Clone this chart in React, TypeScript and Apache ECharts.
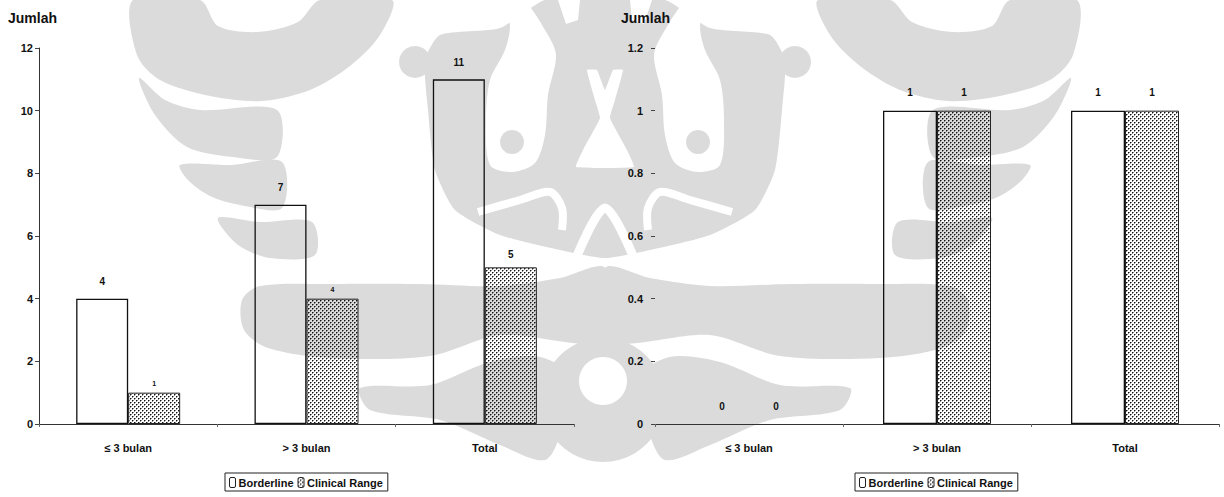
import React, { useEffect, useRef } from 'react';
import * as echarts from 'echarts';

// ---- data ----
const categories = ['≤ 3 bulan', '> 3 bulan', 'Total'];
const seriesNames = ['Borderline', 'Clinical Range'];
const leftBorderline = [4, 7, 11];
const leftClinical = [1, 4, 5];
const rightBorderline = [0, 1, 1];
const rightClinical = [0, 1, 1];
const leftTicks = [0, 2, 4, 6, 8, 10, 12];
const rightTicks = [0, 0.2, 0.4, 0.6, 0.8, 1, 1.2];
const axisTitle = 'Jumlah';

// ---- background emblem (light grey), left half mirrored about x = AXIS ----
const AXIS = 605;
const GREY = '#dbdbdb';
const mirrorPts = (pts: number[][]) => pts.map(([x, y]) => [2 * AXIS - x, y]);

const crescents: number[][][] = [
  [[133, 0], [137, 55], [160, 80], [210, 96], [262, 101], [310, 90], [350, 66], [380, 35], [392, 0], [320, 0], [298, 22], [258, 32], [218, 26], [200, 0]],
  [[139, 78], [165, 100], [200, 110], [277, 110], [277, 157], [233, 157], [187, 147], [155, 115]],
  [[180, 165], [230, 165], [282, 162], [282, 208], [240, 205], [210, 196], [188, 180]],
  [[218, 218], [260, 222], [312, 222], [315, 255], [270, 258], [238, 245]],
];
const wings: number[][][] = [
  [[242, 300], [260, 286], [330, 284], [420, 284], [500, 286], [560, 278], [605, 268], [605, 340], [500, 335], [430, 356], [330, 358], [268, 348], [244, 330]],
  [[360, 388], [430, 385], [490, 362], [540, 357], [575, 380], [562, 430], [545, 460], [500, 445], [440, 420], [370, 410]],
];
const bodyLeft = [[605, 0], [545, 0], [500, 28], [440, 35], [425, 60], [428, 110], [435, 170], [455, 210], [500, 235], [560, 250], [605, 258]];
const bodyPts = [...bodyLeft, ...mirrorPts(bodyLeft).reverse().slice(1, -1)];
const eyeWhite = [[503, 0], [523, 0], [545, 30], [556, 55], [548, 95], [545, 135], [535, 163], [512, 172], [490, 165], [486, 120], [490, 80], [505, 50], [510, 25]];
const notch = [[558, 0], [580, 0], [578, 20], [566, 24]];
const hook = [[478, 212], [520, 200], [550, 192], [562, 208], [562, 230]];
const hourglass = [[587, 70], [597, 70], [605, 90], [613, 70], [623, 70], [615, 100], [610, 118], [627, 150], [634, 167], [576, 167], [583, 150], [600, 118], [595, 100]];

function emblem(): any[] {
  const els: any[] = [];
  const poly = (pts: number[][], fill: string, smooth = 0.3) =>
    els.push({ type: 'polygon', silent: true, z: -10, shape: { points: pts, smooth }, style: { fill } });
  const both = (pts: number[][], fill: string, smooth = 0.3) => {
    poly(pts, fill, smooth);
    poly(mirrorPts(pts), fill, smooth);
  };
  const circle = (cx: number, cy: number, r: number, fill: string) =>
    els.push({ type: 'circle', silent: true, z: -10, shape: { cx, cy, r }, style: { fill } });
  const line = (pts: number[][], w: number) =>
    els.push({ type: 'polyline', silent: true, z: -10, shape: { points: pts, smooth: 0.3 }, style: { stroke: '#fff', lineWidth: w, fill: null } });

  crescents.forEach((c) => both(c, GREY));
  wings.forEach((w) => both(w, GREY));
  poly(bodyPts, GREY, 0.2);
  circle(415, 62, 16, GREY);
  circle(2 * AXIS - 415, 62, 16, GREY);
  circle(603, 400, 62, GREY);

  both(eyeWhite, '#fff');
  both(notch, '#fff', 0);
  poly(hourglass, '#fff', 0.1);
  line(hook, 8);
  line(mirrorPts(hook), 8);
  line([[577, 256], [605, 208], [633, 256]], 9);
  circle(603, 381, 24, '#fff');

  circle(512, 142, 12, GREY);
  circle(2 * AXIS - 512, 142, 12, GREY);
  return els;
}

function dotPattern(): string {
  const c = document.createElement('canvas');
  c.width = 4;
  c.height = 4;
  const g = c.getContext('2d')!;
  g.fillStyle = 'rgba(0,0,0,0.92)';
  g.fillRect(0, 0, 1, 1);
  g.fillRect(2, 2, 1, 1);
  g.fillStyle = 'rgba(0,0,0,0.45)';
  g.fillRect(1, 0, 1, 1);
  g.fillRect(0, 1, 1, 1);
  g.fillRect(3, 2, 1, 1);
  g.fillRect(2, 3, 1, 1);
  return c.toDataURL();
}

const FONT = 'Liberation Sans, Arial, sans-serif';
const INK = '#111';

function buildOption(): any {
  const pattern = { image: dotPattern(), repeat: 'repeat', imageWidth: 4, imageHeight: 4 };
  const borderStyle = { color: 'rgba(255,255,255,0)', borderColor: '#111', borderWidth: 1.3 };
  const dottedStyle = { color: pattern, borderColor: '#222', borderWidth: 1 };
  const baseLabel = { show: true, position: 'top', fontFamily: FONT, fontWeight: 'bold', color: INK };
  // a zero-height bar keeps its label but draws no outline over the axis
  const withZeroFlat = (vals: number[]) =>
    vals.map((v) => (v === 0 ? { value: v, itemStyle: { borderWidth: 0 } } : v));

  const yAxisBase = (ticks: number[], grid: number, showLine: boolean, margin: number) => ({
    type: 'value',
    gridIndex: grid,
    min: ticks[0],
    max: ticks[ticks.length - 1],
    interval: ticks[1] - ticks[0],
    splitLine: { show: false },
    axisLine: { show: showLine, lineStyle: { color: '#333', width: 1 } },
    axisTick: { show: true, length: 4, lineStyle: { color: '#444' } },
    axisLabel: {
      margin,
      fontFamily: FONT,
      fontWeight: 'bold',
      fontSize: 11,
      color: INK,
      formatter: (v: number) => String(Math.round(v * 10) / 10),
    },
  });
  const xAxisBase = (grid: number) => ({
    type: 'category',
    gridIndex: grid,
    data: categories,
    axisLine: { lineStyle: { color: '#333', width: 1.2 } },
    axisTick: { show: true, length: 3, lineStyle: { color: '#666' } },
    axisLabel: { margin: 18, fontFamily: FONT, fontWeight: 'bold', fontSize: 11, color: INK },
  });
  const legendBase = (left: number) => ({
    left,
    top: 473,
    orient: 'horizontal',
    data: seriesNames,
    borderColor: '#222',
    borderWidth: 1,
    padding: [4, 5, 3, 4],
    itemWidth: 6,
    itemHeight: 10,
    itemGap: 4,
    itemStyle: { borderColor: '#222', borderWidth: 1 },
    textStyle: { fontFamily: FONT, fontWeight: 'bold', fontSize: 11, color: INK, padding: [0, 0, 0, -2] },
  });
  const titleStyle = { fontFamily: FONT, fontWeight: 'bold', fontSize: 14, color: INK };

  return {
    animation: false,
    backgroundColor: '#fff',
    title: [
      { text: axisTitle, left: 8, top: 11, padding: 0, textStyle: titleStyle },
      { text: axisTitle, left: 621, top: 11, padding: 0, textStyle: titleStyle },
    ],
    graphic: { elements: emblem() },
    grid: [
      { left: 39, top: 48, width: 535, height: 376 },
      { left: 655, top: 48, width: 564, height: 376 },
    ],
    xAxis: [xAxisBase(0), xAxisBase(1)],
    yAxis: [yAxisBase(leftTicks, 0, true, 6), yAxisBase(rightTicks, 1, false, 12)],
    legend: [legendBase(225), legendBase(855)],
    series: [
      {
        name: seriesNames[0],
        type: 'bar',
        xAxisIndex: 0,
        yAxisIndex: 0,
        barWidth: 52,
        barGap: '0%',
        itemStyle: borderStyle,
        label: { ...baseLabel, fontSize: 10, distance: 12 },
        data: leftBorderline,
      },
      {
        name: seriesNames[1],
        type: 'bar',
        xAxisIndex: 0,
        yAxisIndex: 0,
        barWidth: 52,
        barGap: '0%',
        itemStyle: dottedStyle,
        label: { ...baseLabel, fontSize: 10, distance: 8 },
        data: leftClinical.map((v, i) =>
          i < 2 ? { value: v, label: { fontSize: 7, distance: 6 } } : v
        ),
      },
      {
        name: seriesNames[0],
        type: 'bar',
        xAxisIndex: 1,
        yAxisIndex: 1,
        barWidth: 54,
        barGap: '0%',
        itemStyle: borderStyle,
        label: { ...baseLabel, fontSize: 10, distance: 13 },
        data: withZeroFlat(rightBorderline),
      },
      {
        name: seriesNames[1],
        type: 'bar',
        xAxisIndex: 1,
        yAxisIndex: 1,
        barWidth: 54,
        barGap: '0%',
        itemStyle: dottedStyle,
        label: { ...baseLabel, fontSize: 10, distance: 13 },
        data: withZeroFlat(rightClinical),
      },
    ],
  };
}

export default function App() {
  const ref = useRef<HTMLDivElement>(null);
  useEffect(() => {
    if (!ref.current) return;
    const chart = echarts.init(ref.current, undefined, { renderer: 'svg' });
    chart.setOption(buildOption());
    return () => chart.dispose();
  }, []);
  return (
    <div
      ref={ref}
      style={{ position: 'fixed', left: 0, top: 0, width: 1224, height: 497, background: '#fff' }}
    />
  );
}
